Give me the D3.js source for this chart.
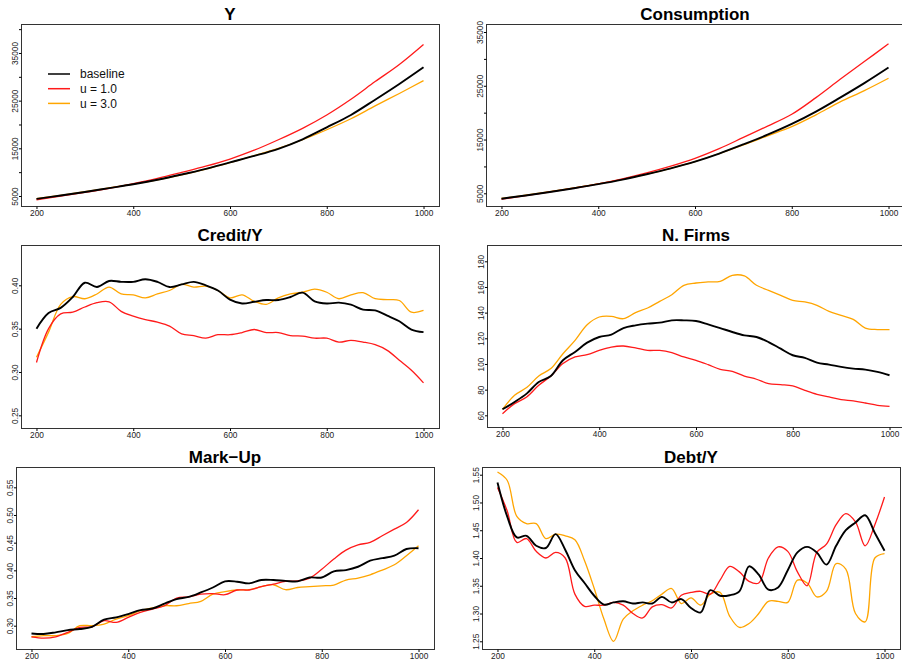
<!DOCTYPE html>
<html>
<head>
<meta charset="utf-8">
<script src="https://cdn.jsdelivr.net/npm/d3@7"></script>
<style>
	body { margin: 0; background: #fff; }
	svg { display: block; font-family: "Liberation Sans", Arial, Helvetica, sans-serif; }
	.title { font-size: 17px; font-weight: bold; fill: #000; }
	.tick text { font-size: 8.3px; fill: #222; }
	.tick line { stroke: #000; }
	.legend text { font-size: 12px; fill: #111; }
</style>
</head>
<body>
<div id="chart"></div>
<script>

// DATA //

const seriesNames = [ 'baseline', 'u = 1.0', 'u = 3.0' ];
const seriesColors = [ '#000000', '#ff1a1a', '#ffa500' ];

const t50 = [ 200, 250, 300, 350, 400, 450, 500, 550, 600, 650, 700, 750, 800, 850, 900, 950, 1000 ];
const t25 = [ 200, 225, 250, 275, 300, 325, 350, 375, 400, 425, 450, 475, 500, 525, 550, 575, 600,
	625, 650, 675, 700, 725, 750, 775, 800, 825, 850, 875, 900, 925, 950, 975, 1000 ];
const t20 = [ 200, 220, 240, 260, 280, 300, 320, 340, 360, 380, 400, 420, 440, 460, 480, 500, 520,
	540, 560, 580, 600, 620, 640, 660, 680, 700, 720, 740, 760, 780, 800, 820, 840, 860, 880, 900,
	920, 940, 960, 980, 1000 ];

const xTicks = [ 200, 400, 600, 800, 1000 ];

// Y (output)
const gdpBase = [ 4400, 5100, 5850, 6650, 7450, 8400, 9500, 10700, 12050, 13400, 14900, 16900, 19400, 22000, 25200, 28500, 32000 ];
const gdpU1 = [ 4200, 4950, 5750, 6600, 7600, 8700, 9950, 11250, 12750, 14600, 16800, 19200, 22000, 25300, 29000, 32600, 36800 ];
const gdpU3 = [ 4450, 5150, 5900, 6700, 7500, 8400, 9450, 10650, 12000, 13450, 15000, 16800, 18900, 21200, 23900, 26500, 29200 ];
const gdpTicks = [ 5000, 10000, 15000, 20000, 25000, 30000, 35000, 40000 ];
const gdpLabels = [ 5000, 15000, 25000, 35000 ];

// Consumption
const consBase = [ 4000, 4600, 5250, 5950, 6700, 7550, 8550, 9650, 10900, 12400, 14100, 15900, 17900, 20200, 22800, 25500, 28400 ];
const consU1 = [ 3900, 4550, 5250, 5950, 6750, 7700, 8800, 10050, 11500, 13300, 15400, 17500, 19700, 22800, 26200, 29500, 32800 ];
const consU3 = [ 4050, 4650, 5300, 6000, 6750, 7600, 8550, 9650, 10900, 12400, 14000, 15700, 17400, 19600, 22000, 24100, 26400 ];
const consTicks = [ 5000, 10000, 15000, 20000, 25000, 30000, 35000 ];
const consLabels = [ 5000, 15000, 25000, 35000 ];

// Credit/Y
const creditBase = [ 0.350, 0.368, 0.374, 0.3865, 0.403, 0.398, 0.405, 0.404, 0.404, 0.407, 0.404, 0.398, 0.401,
	0.404, 0.400, 0.394, 0.3835, 0.379, 0.381, 0.383, 0.383, 0.3865, 0.3915, 0.3815, 0.379, 0.380, 0.3777,
	0.372, 0.371, 0.365, 0.3585, 0.349, 0.346 ];
const creditU1 = [ 0.311, 0.350, 0.367, 0.369, 0.375, 0.380, 0.381, 0.370, 0.3645, 0.3605, 0.3575, 0.353, 0.344,
	0.342, 0.339, 0.343, 0.343, 0.3455, 0.349, 0.3455, 0.3455, 0.342, 0.3415, 0.339, 0.339, 0.3345, 0.3365,
	0.3345, 0.3315, 0.325, 0.3135, 0.302, 0.2875 ];
const creditU3 = [ 0.317, 0.346, 0.378, 0.387, 0.3845, 0.390, 0.398, 0.390, 0.389, 0.3855, 0.390, 0.394, 0.401,
	0.398, 0.399, 0.394, 0.3855, 0.389, 0.3815, 0.378, 0.3855, 0.390, 0.392, 0.3955, 0.392, 0.3845, 0.389,
	0.3915, 0.3845, 0.3835, 0.3825, 0.369, 0.371 ];
const creditTicks = [ 0.25, 0.30, 0.35, 0.40 ];

// N. Firms
const firmsBase = [ 64.7, 70.4, 76.9, 86, 90.6, 102.9, 109.4, 116.6, 121, 122.9, 128, 130.1, 131.4, 132.2, 134,
	134, 133.5, 130.9, 128, 124.9, 122.3, 121, 117.1, 111.9, 106.8, 104.7, 101, 99.5, 97.7, 96.4, 95.6, 93.8, 91.2 ];
const firmsU1 = [ 61.3, 69.1, 74.3, 83.4, 90.6, 100.3, 105.5, 107.3, 110.6, 113.2, 114, 112.5, 110.6, 110.6, 108.8,
	105.5, 102.9, 99.5, 95.8, 94.3, 90.6, 88.1, 84.7, 83.9, 82.9, 79.5, 76.4, 74.3, 72.2, 71.2, 69.6, 67.8, 67 ];
const firmsU3 = [ 64.7, 75.6, 81.6, 90.6, 96.4, 108, 118.4, 130.6, 136.6, 137.1, 135.3, 140, 143.6, 148.8, 154,
	161.3, 163.1, 163.9, 164.4, 169.1, 168.6, 161.3, 157.4, 153.5, 149.6, 148.3, 145.7, 141, 137.9, 134.8, 128,
	126.8, 126.8 ];
const firmsTicks = [ 60, 80, 100, 120, 140, 160, 180 ];

// Mark-Up
const markupBase = [ 0.286, 0.285, 0.288, 0.292, 0.294, 0.298, 0.311, 0.315, 0.321, 0.328, 0.331, 0.340, 0.348,
	0.352, 0.360, 0.369, 0.380, 0.3795, 0.3765, 0.3825, 0.3825, 0.381, 0.380, 0.387, 0.387, 0.398, 0.4005,
	0.4065, 0.4175, 0.422, 0.4265, 0.4385, 0.440 ];
const markupU1 = [ 0.280, 0.2777, 0.280, 0.288, 0.297, 0.298, 0.309, 0.306, 0.315, 0.324, 0.330, 0.336, 0.350,
	0.352, 0.357, 0.358, 0.356, 0.3645, 0.3645, 0.3705, 0.375, 0.380, 0.381, 0.386, 0.402, 0.4205, 0.4365,
	0.446, 0.4505, 0.4625, 0.4745, 0.4865, 0.5095 ];
const markupU3 = [ 0.280, 0.282, 0.282, 0.286, 0.300, 0.300, 0.303, 0.312, 0.318, 0.327, 0.332, 0.336, 0.336,
	0.340, 0.344, 0.357, 0.3615, 0.3645, 0.365, 0.3705, 0.374, 0.365, 0.369, 0.3705, 0.372, 0.3735, 0.3825,
	0.386, 0.392, 0.4005, 0.410, 0.4265, 0.4445 ];
const markupTicks = [ 0.30, 0.35, 0.40, 0.45, 0.50, 0.55 ];

// Debt/Y
const debtBase = [ 1.536, 1.475, 1.437, 1.440, 1.422, 1.418, 1.443, 1.415, 1.378, 1.355, 1.332, 1.316, 1.320,
	1.322, 1.318, 1.320, 1.318, 1.330, 1.320, 1.326, 1.310, 1.302, 1.342, 1.332, 1.333, 1.340, 1.385, 1.370,
	1.343, 1.347, 1.378, 1.410, 1.420, 1.410, 1.388, 1.422, 1.450, 1.464, 1.477, 1.445, 1.413 ];
const debtU1 = [ 1.527, 1.485, 1.428, 1.435, 1.412, 1.400, 1.410, 1.400, 1.335, 1.313, 1.315, 1.315, 1.320,
	1.315, 1.300, 1.292, 1.312, 1.316, 1.310, 1.333, 1.338, 1.340, 1.335, 1.360, 1.385, 1.375, 1.358, 1.355,
	1.400, 1.420, 1.412, 1.375, 1.350, 1.410, 1.425, 1.460, 1.480, 1.465, 1.422, 1.460, 1.510 ];
const debtU3 = [ 1.555, 1.540, 1.475, 1.462, 1.462, 1.435, 1.443, 1.440, 1.433, 1.395, 1.345, 1.290, 1.250,
	1.290, 1.305, 1.315, 1.323, 1.335, 1.345, 1.318, 1.328, 1.315, 1.335, 1.338, 1.295, 1.275, 1.282, 1.300,
	1.322, 1.322, 1.320, 1.360, 1.355, 1.330, 1.340, 1.390, 1.380, 1.300, 1.285, 1.400, 1.408 ];
const debtTicks = [ 1.25, 1.30, 1.35, 1.40, 1.45, 1.50, 1.55 ];


// VARIABLES //

const width = 902;
const height = 665;
const xDomain = [ 168, 1032 ];

// Plot boxes [left, top, right, bottom] and y extents, one per panel.
const panels = [
	{ title: 'Y', box: [ 21, 24, 439, 206 ], yDomain: [ 2900, 41080 ], yTicks: gdpTicks, yLabels: gdpLabels,
		fmt: d3.format( 'd' ), t: t50, values: [ gdpBase, gdpU1, gdpU3 ], legend: true },
	{ title: 'Consumption', box: [ 486, 24, 904, 206 ], yDomain: [ 2640, 36490 ], yTicks: consTicks, yLabels: consLabels,
		fmt: d3.format( 'd' ), t: t50, values: [ consBase, consU1, consU3 ] },
	{ title: 'Credit/Y', box: [ 21, 245, 439, 428 ], yDomain: [ 0.2354, 0.4465 ], yTicks: creditTicks, yLabels: creditTicks,
		fmt: d3.format( '.2f' ), t: t25, values: [ creditBase, creditU1, creditU3 ] },
	{ title: 'N. Firms', box: [ 487, 245, 905, 427 ], yDomain: [ 50.9, 192.7 ], yTicks: firmsTicks, yLabels: firmsTicks,
		fmt: d3.format( 'd' ), t: t25, values: [ firmsBase, firmsU1, firmsU3 ] },
	{ title: 'Mark\u2212Up', box: [ 16, 467, 434, 649 ], yDomain: [ 0.2579, 0.5867 ], yTicks: markupTicks, yLabels: markupTicks,
		fmt: d3.format( '.2f' ), t: t25, values: [ markupBase, markupU1, markupU3 ] },
	{ title: 'Debt/Y', box: [ 482, 467, 900, 649 ], yDomain: [ 1.2361, 1.5639 ], yTicks: debtTicks, yLabels: debtTicks,
		fmt: d3.format( '.2f' ), t: t20, values: [ debtBase, debtU1, debtU3 ] }
];

// Draw order: orange, red, then black on top.
const drawOrder = [ 2, 1, 0 ];
const lineWidths = [ 1.9, 1.3, 1.3 ];


// FUNCTIONS //

function drawPanel( svg, p ) {
	const [ x0, y0, x1, y1 ] = p.box;
	const x = d3.scaleLinear().domain( xDomain ).range([ x0, x1 ]);
	const y = d3.scaleLinear().domain( p.yDomain ).range([ y1, y0 ]);
	const g = svg.append( 'g' );

	const clipId = 'clip' + x0 + '_' + y0;
	g.append( 'clipPath' ).attr( 'id', clipId )
		.append( 'rect' )
		.attr( 'x', x0 ).attr( 'y', y0 )
		.attr( 'width', x1 - x0 ).attr( 'height', y1 - y0 );

	// Smooth curve through the sampled points.
	const line = d3.line()
		.x( d => x( d[0] ) )
		.y( d => y( d[1] ) )
		.curve( d3.curveCatmullRom.alpha( 0.5 ) );

	drawOrder.forEach( ( k ) => {
		const pts = p.t.map( ( t, i ) => [ t, p.values[ k ][ i ] ] );
		g.append( 'path' )
			.datum( pts )
			.attr( 'clip-path', 'url(#' + clipId + ')' )
			.attr( 'd', line )
			.attr( 'fill', 'none' )
			.attr( 'stroke', seriesColors[ k ] )
			.attr( 'stroke-width', lineWidths[ k ] )
			.attr( 'stroke-linejoin', 'round' );
	});

	// Box around the plot region.
	g.append( 'rect' )
		.attr( 'x', x0 + 0.5 ).attr( 'y', y0 + 0.5 )
		.attr( 'width', x1 - x0 ).attr( 'height', y1 - y0 )
		.attr( 'fill', 'none' )
		.attr( 'stroke', '#333' )
		.attr( 'stroke-width', 1 );

	// x axis
	const xAxis = g.append( 'g' )
		.attr( 'transform', 'translate(0,' + ( y1 + 0.5 ) + ')' )
		.call( d3.axisBottom( x ).tickValues( xTicks ).tickSize( 2.5 ).tickPadding( 1.5 ).tickFormat( d3.format( 'd' ) ) );
	xAxis.select( '.domain' ).remove();

	// y axis, labels rotated as in R (las = 0)
	const yAxis = g.append( 'g' )
		.attr( 'transform', 'translate(' + ( x0 + 0.5 ) + ',0)' )
		.call( d3.axisLeft( y ).tickValues( p.yTicks ).tickSize( 2.5 )
			.tickFormat( d => p.yLabels.indexOf( d ) >= 0 ? p.fmt( d ) : '' ) );
	yAxis.select( '.domain' ).remove();
	yAxis.selectAll( 'text' )
		.attr( 'transform', 'rotate(-90)' )
		.attr( 'x', 0 )
		.attr( 'y', -3.5 )
		.attr( 'dy', 0 )
		.attr( 'text-anchor', 'middle' );

	g.append( 'text' )
		.attr( 'class', 'title' )
		.attr( 'x', ( x0 + x1 ) / 2 )
		.attr( 'y', y0 - 4 )
		.attr( 'text-anchor', 'middle' )
		.text( p.title );

	if ( p.legend ) {
		const lg = g.append( 'g' ).attr( 'class', 'legend' );
		seriesNames.forEach( ( name, i ) => {
			const ly = y0 + 50 + i * 14.7;
			lg.append( 'line' )
				.attr( 'x1', x0 + 27 ).attr( 'x2', x0 + 49 )
				.attr( 'y1', ly ).attr( 'y2', ly )
				.attr( 'stroke', seriesColors[ i ] )
				.attr( 'stroke-width', 1.5 );
			lg.append( 'text' )
				.attr( 'x', x0 + 59 )
				.attr( 'y', ly )
				.attr( 'dy', '0.35em' )
				.text( name );
		});
	}
}


// MAIN //

const svg = d3.select( '#chart' ).append( 'svg' )
	.attr( 'width', width )
	.attr( 'height', height );

panels.forEach( p => drawPanel( svg, p ) );

</script>
</body>
</html>
